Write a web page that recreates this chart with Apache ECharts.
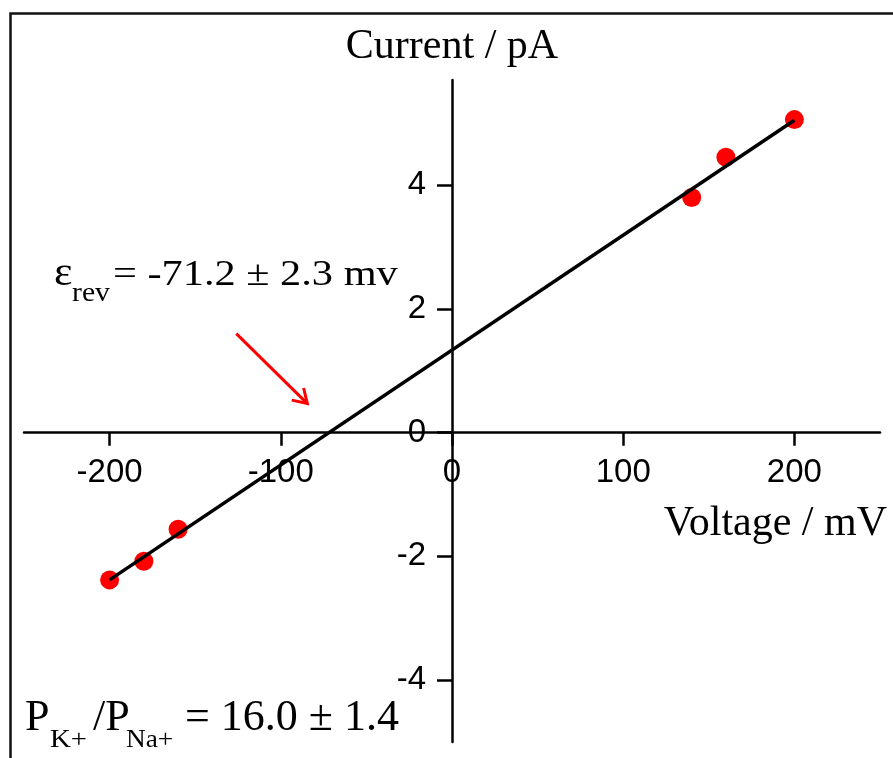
<!DOCTYPE html>
<html><head><meta charset="utf-8">
<script src="https://cdn.jsdelivr.net/npm/echarts@6/dist/echarts.min.js"></script>
<style>html,body{margin:0;padding:0;background:#fff}#c{width:893px;height:758px}</style>
</head><body><div id="c"></div>
<script>
// ---- data ----
const voltage = [-200, -180, -160, 140, 160, 200];
const current = [-2.38, -2.08, -1.56, 3.80, 4.45, 5.06];
const fitVoltage = [-200, 200];
const fitCurrent = [-2.38, 5.05];
const xTicks = [-200, -100, 0, 100, 200];
const yTicks = [-4, -2, 0, 2, 4];
const arrowFrom = [-126, 1.60];
const arrowTo = [-84.5, 0.47];
const revLabel = ['\u03b5', 'rev', '= -71.2 \u00b1 2.3 mv'];
const permLabel = ['P', 'K+', '/P', 'Na+', '= 16.0 \u00b1 1.4'];

const chart = echarts.init(document.getElementById('c'), null, {renderer: 'canvas'});
const sans = 'Liberation Sans';
const serif = 'Liberation Serif';

const W = 893, H = 758;
const G = {left: 24, right: 13, top: 80, bottom: 16};
const xMin = -250, xMax = 250, yMin = -5, yMax = 5.7;
const gw = W - G.left - G.right, gh = H - G.top - G.bottom;
// axes crossing at the origin: shift the bottom/left axes inward
const xOffset = -((0 - yMin) / (yMax - yMin)) * gh;
const yOffset = -((0 - xMin) / (xMax - xMin)) * gw;

const option = {
  animation: false,
  backgroundColor: '#fff',
  grid: Object.assign({containLabel: false, outerBoundsMode: 'none'}, G),
  xAxis: {
    type: 'value', min: xMin, max: xMax, position: 'bottom', offset: xOffset,
    axisLine: {onZero: false, lineStyle: {color: '#000', width: 2.5}},
    axisTick: {show: true, length: 13, customValues: xTicks, lineStyle: {color: '#000', width: 2.5}},
    axisLabel: {customValues: xTicks, margin: 24, fontFamily: sans, fontSize: 33, color: '#000'},
    splitLine: {show: false},
    name: 'Voltage / mV', nameLocation: 'end', nameGap: 7,
    nameTextStyle: {fontFamily: serif, fontSize: 42, color: '#000', align: 'right', verticalAlign: 'top', padding: [70, 0, 0, 0]}
  },
  yAxis: {
    type: 'value', min: yMin, max: yMax, position: 'left', offset: yOffset,
    axisLine: {onZero: false, lineStyle: {color: '#000', width: 2.5}},
    axisTick: {show: true, length: 15, customValues: yTicks, lineStyle: {color: '#000', width: 2.5}},
    axisLabel: {customValues: yTicks, margin: 26, fontFamily: sans, fontSize: 33, color: '#000'},
    splitLine: {show: false},
    name: 'Current / pA', nameLocation: 'end', nameGap: 12,
    nameTextStyle: {fontFamily: serif, fontSize: 42, color: '#000', align: 'center'}
  },
  series: [
    {
      type: 'scatter', z: 2,
      data: voltage.map((v, i) => [v, current[i]]),
      symbolSize: 19,
      itemStyle: {color: '#ff0000', opacity: 1}
    },
    {
      type: 'line', z: 3,
      data: fitVoltage.map((v, i) => [v, fitCurrent[i]]),
      showSymbol: false, symbol: 'none',
      lineStyle: {color: '#000', width: 3.5}
    }
  ]
};
chart.setOption(option);

function txt(str, x, baseline, size, scaleX) {
  return {
    type: 'text', x: x, y: baseline - 0.3 * size, scaleX: scaleX || 1, z: 10,
    style: {text: str, fontFamily: serif, fontSize: size, fill: '#000', align: 'left', verticalAlign: 'middle'}
  };
}

const p1 = chart.convertToPixel({gridIndex: 0}, arrowFrom);
const p2 = chart.convertToPixel({gridIndex: 0}, arrowTo);
const ang = Math.atan2(p1[1] - p2[1], p1[0] - p2[0]);
const wl = 16, wa = 32 * Math.PI / 180;
const w1 = [p2[0] + wl * Math.cos(ang - wa), p2[1] + wl * Math.sin(ang - wa)];
const w2 = [p2[0] + wl * Math.cos(ang + wa), p2[1] + wl * Math.sin(ang + wa)];

chart.setOption({
  graphic: [
    {type: 'rect', z: 10, shape: {x: 10.5, y: 13.5, width: 2000, height: 2000},
     style: {fill: 'none', stroke: '#111', lineWidth: 2.5}},
    txt(revLabel[0], 54, 286, 40, 1.1),
    txt(revLabel[1], 72, 302, 27, 1.1),
    txt(revLabel[2], 113, 286, 35, 1.21),
    txt(permLabel[0], 25, 732, 44, 1),
    txt(permLabel[1], 50, 748, 25, 1.15),
    txt(permLabel[2], 93, 732, 44, 1),
    txt(permLabel[3], 126, 748, 26, 1.05),
    txt(permLabel[4], 185, 732, 44, 1),
    {type: 'line', z: 10, shape: {x1: p1[0], y1: p1[1], x2: p2[0], y2: p2[1]},
     style: {stroke: '#ff0000', lineWidth: 3}},
    {type: 'polyline', z: 10, shape: {points: [w1, p2, w2]},
     style: {stroke: '#ff0000', lineWidth: 3, fill: 'none'}}
  ]
});
</script>
</body></html>
